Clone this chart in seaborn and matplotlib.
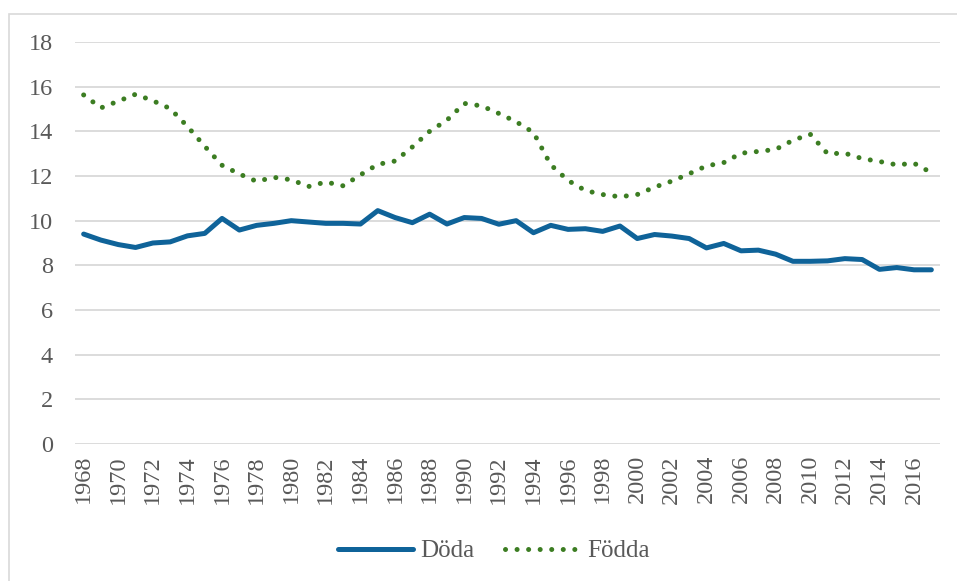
import numpy as np
import pandas as pd
import matplotlib.pyplot as plt
import seaborn as sns
from matplotlib.patches import Rectangle

# Data (per 1000 inhabitants)
years = list(range(1968, 2018))
doda = [9.40, 9.13, 8.93, 8.80, 9.00, 9.05, 9.32, 9.43, 10.10, 9.58,
        9.79, 9.88, 10.00, 9.94, 9.88, 9.88, 9.85, 10.45, 10.14, 9.91,
        10.29, 9.85, 10.14, 10.10, 9.84, 10.00, 9.46, 9.79, 9.61, 9.64,
        9.52, 9.76, 9.20, 9.38, 9.31, 9.20, 8.78, 8.98, 8.65, 8.68,
        8.50, 8.18, 8.18, 8.20, 8.30, 8.26, 7.82, 7.90, 7.80, 7.80]
fodda = [15.63, 15.05, 15.35, 15.66, 15.37, 15.02, 14.22, 13.33, 12.48, 12.09,
         11.76, 11.94, 11.83, 11.53, 11.73, 11.56, 12.05, 12.52, 12.67, 13.30,
         14.00, 14.50, 15.25, 15.14, 14.80, 14.43, 13.95, 12.50, 11.80, 11.35,
         11.17, 11.07, 11.17, 11.50, 11.77, 12.10, 12.45, 12.60, 13.02, 13.10,
         13.19, 13.60, 13.87, 13.00, 13.02, 12.78, 12.65, 12.50, 12.57, 12.15]
xticks = list(range(1968, 2017, 2))
yticks = list(range(0, 19, 2))

df = pd.DataFrame({'year': years, 'Döda': doda, 'Födda': fodda})

sns.set_style('white')
plt.rcParams['font.family'] = ['Liberation Serif', 'DejaVu Serif']
grey = '#595959'
blue = '#0F6399'
green = '#3C7D22'

fig = plt.figure(figsize=(9.57, 5.81), dpi=100)
ax = fig.add_axes([75 / 957, 1 - 444 / 581, 865 / 957, 402 / 581])

# outer chart frame
fig.patches.append(Rectangle((9 / 957, -0.1), 1.2, 1 - 14 / 581 + 0.1,
                             transform=fig.transFigure, fill=False,
                             edgecolor='#d9d9d9', linewidth=1.2))

sns.lineplot(data=df, x='year', y='Döda', ax=ax, color=blue, linewidth=3.6,
             solid_capstyle='round', label='Döda')
sns.lineplot(data=df, x='year', y='Födda', ax=ax, color=green, linewidth=3.6,
             linestyle=(0, (0.01, 2.3)), dash_capstyle='round', label='Födda')

ax.set_xlim(1967.5, 2017.5)
ax.set_ylim(0, 18)
ax.set_yticks(yticks)
ax.set_xticks(xticks)
ax.set_xticklabels([str(t) for t in xticks], rotation=90)
ax.grid(axis='y', color='#d9d9d9', linewidth=1.3)
ax.set_axisbelow(True)
for s in ax.spines.values():
    s.set_visible(False)
ax.tick_params(axis='both', length=0, labelsize=17.5, colors=grey)
ax.tick_params(axis='y', pad=16)
ax.tick_params(axis='x', pad=8)
ax.set_xlabel('')
ax.set_ylabel('')

leg = ax.legend(loc='center', bbox_to_anchor=(494 / 957, 1 - 551 / 581), bbox_transform=fig.transFigure,
                ncol=2, frameon=False, fontsize=18, handlelength=3.0,
                handletextpad=0.3, columnspacing=1.2)
for t in leg.get_texts():
    t.set_color(grey)

fig.savefig('out.png', dpi=100)
